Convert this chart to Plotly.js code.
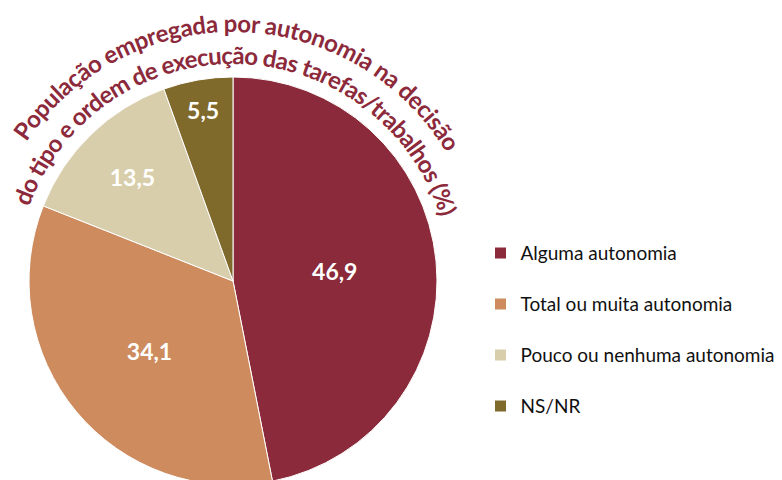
<!DOCTYPE html>
<html><head><meta charset="utf-8">
<script src="https://cdn.plot.ly/plotly-3.0.1.min.js"></script>
<style>html,body{margin:0;padding:0;overflow:hidden;background:#fff}#chart{width:782px;height:490px}</style>
</head><body><div id="chart"></div>
<script>
const categories = ["Alguma autonomia", "Total ou muita autonomia", "Pouco ou nenhuma autonomia", "NS/NR"];
const values = [46.9, 34.1, 13.5, 5.5];
const valueLabels = ["46,9", "34,1", "13,5", "5,5"];
const colors = ["#8A2A3A", "#CD8B5E", "#D9CEAB", "#7F692B"];
const titleLines = ["População empregada por autonomia na decisão", "do tipo e ordem de execução das tarefas/trabalhos (%)"];

const W = 782, H = 490;
const domX = [29 / W, 437 / W], domY = [5 / H, 413 / H];
const titleColor = "#8C2A3C";

const trace = {
  type: "pie",
  labels: categories,
  values: values,
  text: valueLabels,
  textinfo: "text",
  textposition: "inside",
  insidetextorientation: "horizontal",
  textfont: {family: "Lato", size: 23, color: "#ffffff", weight: "bold"},
  sort: false,
  direction: "clockwise",
  rotation: 0,
  domain: {x: domX, y: domY},
  marker: {colors: colors, line: {color: "#ffffff", width: 1}},
  hoverinfo: "none"
};

const layout = {
  width: W, height: H,
  margin: {l: 0, r: 0, t: 0, b: 0},
  paper_bgcolor: "#ffffff",
  showlegend: true,
  title: {text: titleLines.join("<br>"), font: {family: "Lato", size: 24, color: titleColor, weight: "bold"}},
  legend: {x: 0.614, xanchor: "left", y: 0.5, yanchor: "middle", font: {family: "Lato", size: 19, color: "#111111"}, bgcolor: "rgba(0,0,0,0)"}
};

Plotly.newPlot("chart", [trace], layout, {staticPlot: true}).then(gd => {
  const NS = "http://www.w3.org/2000/svg";
  const cx = W * (domX[0] + domX[1]) / 2;
  const cy = H * (1 - (domY[0] + domY[1]) / 2);
  // title on arcs concentric with the pie
  const arcs = [{r: 249, a1: -56, a2: 59}, {r: 217, a1: -70, a2: 73}];
  const pt = (r, a) => [cx + r * Math.sin(a * Math.PI / 180), cy - r * Math.cos(a * Math.PI / 180)];
  const t = gd.querySelector(".gtitle");
  if (t) {
    const svg = t.ownerSVGElement;
    const defs = document.createElementNS(NS, "defs");
    svg.insertBefore(defs, svg.firstChild);
    while (t.firstChild) t.removeChild(t.firstChild);
    ["x", "y", "transform", "dy"].forEach(a => t.removeAttribute(a));
    t.setAttribute("text-anchor", "middle");
    arcs.forEach((arc, i) => {
      const [x1, y1] = pt(arc.r, arc.a1), [x2, y2] = pt(arc.r, arc.a2);
      const p = document.createElementNS(NS, "path");
      p.setAttribute("id", "titleArc" + i);
      p.setAttribute("d", `M${x1},${y1} A${arc.r},${arc.r} 0 0 1 ${x2},${y2}`);
      p.setAttribute("fill", "none");
      defs.appendChild(p);
      const len = arc.r * (arc.a2 - arc.a1) * Math.PI / 180;
      const tp = document.createElementNS(NS, "textPath");
      tp.setAttribute("href", "#titleArc" + i);
      tp.setAttribute("startOffset", "50%");
      tp.setAttribute("textLength", len.toFixed(1));
      tp.setAttribute("lengthAdjust", "spacing");
      tp.textContent = titleLines[i];
      t.appendChild(tp);
    });
  }
  // legend spacing
  const scroll = gd.querySelector(".legend .scrollbox");
  if (scroll) scroll.removeAttribute("clip-path");
  const items = gd.querySelectorAll(".legend .traces");
  const targetX = 500.5, targetY0 = 253, stepY = 51;
  items.forEach((g, i) => {
    const sym = g.querySelector(".legendpoints path");
    if (!sym) return;
    const b = sym.getBoundingClientRect();
    const dx = targetX - (b.left + b.width / 2);
    const dy = targetY0 + i * stepY - (b.top + b.height / 2);
    const m = /translate\(\s*([-\d.e]+)[ ,]+([-\d.e]+)\s*\)/.exec(g.getAttribute("transform") || "");
    const ox = m ? parseFloat(m[1]) : 0, oy = m ? parseFloat(m[2]) : 0;
    g.setAttribute("transform", `translate(${ox + dx},${oy + dy})`);
  });
});
</script>
</body></html>
